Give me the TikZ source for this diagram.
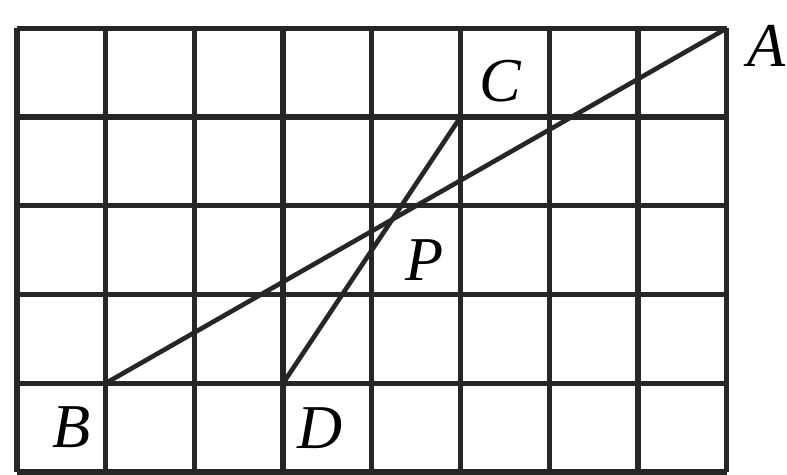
\documentclass[tikz,border=0pt]{standalone}
\usepackage{fontspec}
\setmainfont{Liberation Serif}
\usetikzlibrary{calc,intersections}
\begin{document}
\begin{tikzpicture}[
  gridline/.style={line width=1.7pt, black!85},
  segline/.style={line width=1.5pt, black!85},
  lab/.style={font=\fontsize{20}{20}\selectfont\itshape, inner sep=0pt}
]
\useasboundingbox (-0.19,-0.03) rectangle (8.68,5.32);
\draw[gridline] (0,0) grid (8,5);
\coordinate (A) at (8,5);
\coordinate (B) at (1,1);
\coordinate (C) at (5,4);
\coordinate (D) at (3,1);
\draw[segline, name path=ab] (A) -- (B);
\draw[segline, name path=cd] (C) -- (D);
\path[name intersections={of=ab and cd, by=P}];
\node[lab] (lA) at (8.45,4.8) {A};
\node[lab] (lC) at (5.45,4.4) {C};
\node[lab] (lP) at (4.6,2.39) {P};
\node[lab] (lB) at (0.62,0.5) {B};
\node[lab] (lD) at (3.42,0.5) {D};
\end{tikzpicture}
\end{document}
